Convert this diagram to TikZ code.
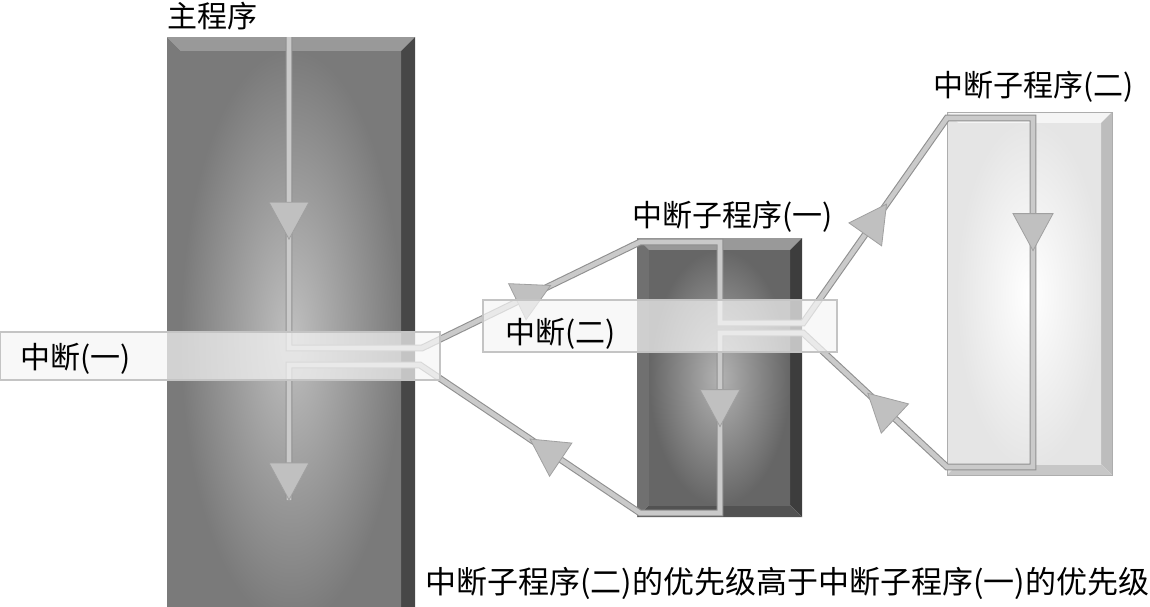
\documentclass[tikz,border=0pt]{standalone}
\usepackage{fontspec}
\newfontfamily\cjk{Noto Sans CJK SC}
\usetikzlibrary{calc,decorations.markings}
\definecolor{linefill}{HTML}{CACACA}
\definecolor{lineedge}{HTML}{909090}
\definecolor{arrfill}{HTML}{C0C0C0}
\definecolor{arredge}{HTML}{A0A0A0}
\definecolor{bandedge}{HTML}{C4C4C4}
\newcommand\bevelfaces[8]{%
 \fill[#3] (#1.north west) -- (#1.north east) -- ($(#1.north east)+(-#2,#2)$) -- ($(#1.north west)+(#2,#2)$) -- cycle;
 \fill[#4] (#1.north west) -- ($(#1.north west)+(#2,#2)$) -- ($(#1.south west)+(#2,-#2)$) -- (#1.south west) -- cycle;
 \fill[#5] (#1.north east) -- (#1.south east) -- ($(#1.south east)+(-#2,-#2)$) -- ($(#1.north east)+(-#2,#2)$) -- cycle;
 \fill[#6] (#1.south west) -- (#1.south east) -- ($(#1.south east)+(-#2,-#2)$) -- ($(#1.south west)+(#2,-#2)$) -- cycle;
 \shade[inner color=#7, outer color=#8] ($(#1.north west)+(#2,#2)$) rectangle ($(#1.south east)+(-#2,-#2)$);
}
\tikzset{
 boxnode/.style={rectangle, inner sep=0pt, outer sep=0pt, anchor=north west},
 flow/.style={draw=lineedge, double=linefill, double distance=4.6pt, line width=1.1pt},
 arrowat/.style={decorate, decoration={markings, mark=at position #1 with {\filldraw[fill=arrfill, draw=arredge, line width=0.8pt, line join=miter] (0pt,0pt) -- (-37pt,20pt) -- (-37pt,-20pt) -- cycle;}}},
 band/.style={rectangle, inner sep=0pt, outer sep=0pt, anchor=north west, fill=black!4, fill opacity=0.72, draw=bandedge, line width=1.4pt},
 label/.style={inner sep=0pt, anchor=base west, font=\cjk\fontsize{30}{32}\selectfont},
 note/.style={inner sep=0pt, anchor=base west, font=\cjk\fontsize{31}{33}\selectfont}
}
\begin{document}
\begin{tikzpicture}[x=1pt,y=-1pt]
\useasboundingbox (0,0) rectangle (1150,606);
% boxes
\node[boxnode, minimum width=248pt, minimum height=600pt] (main) at (167,37) {};
\bevelfaces{main}{14}{black!40}{black!52}{black!72}{black!62}{black!25}{black!52}
\node[boxnode, minimum width=165pt, minimum height=279pt] (isr1) at (637,238) {};
\bevelfaces{isr1}{12}{black!40}{black!56}{black!76}{black!68}{black!30}{black!60}
\node[boxnode, minimum width=165pt, minimum height=363pt] (isr2) at (947,112) {};
\bevelfaces{isr2}{11}{black!4}{black!10}{black!26}{black!22}{white}{black!10}
\draw[black!32, line width=1pt] (isr2.north west) rectangle (isr2.south east);
% path points
\coordinate (a0) at (289,37);
\coordinate (a1) at (289,348);
\coordinate (a2) at (422,348);
\coordinate (b0) at (640,242);
\coordinate (b1) at (720,242);
\coordinate (b2) at (720,323);
\coordinate (b3) at (803,323);
\coordinate (c0) at (947,118);
\coordinate (c1) at (1033,118);
\coordinate (c2) at (1033,467);
\coordinate (c3) at (947,467);
\coordinate (b4) at (803,333);
\coordinate (b5) at (720,333);
\coordinate (b6) at (720,513);
\coordinate (b7) at (640,513);
\coordinate (a3) at (420,365);
\coordinate (a4) at (289,365);
\coordinate (a5) at (289,500);
% connectors
\draw[flow] (a0) -- (a1) -- (a2) -- (b0) -- (b1) -- (b2) -- (b3) -- (c0) -- (c1) -- (c2) -- (c3) -- (b4) -- (b5) -- (b6) -- (b7) -- (a3) -- (a4) -- (a5);
% arrowheads
\path[arrowat=0.65] (a0) -- (a1);
\path[arrowat=0.59] (a2) -- (b0);
\path[arrowat=0.52] (b5) -- (b6);
\path[arrowat=0.5] (b7) -- (a3);
\path[arrowat=0.58] (b3) -- (c0);
\path[arrowat=0.38] (c1) -- (c2);
\path[arrowat=0.55] (c3) -- (b4);
\path[arrowat=0.999] (a4) -- (a5);
% bands
\node[band, minimum width=440pt, minimum height=48pt] (band1) at (0,332) {};
\node[band, minimum width=354pt, minimum height=52pt] (band2) at (483,300) {};
% labels
\node[label] (tmain) at (167,27) {主程序};
\node[label] (tint1) at (20,368) {中断(一)};
\node[label] (tint2) at (505,343) {中断(二)};
\node[label] (tisr1) at (632,226) {中断子程序(一)};
\node[label] (tisr2) at (933,96) {中断子程序(二)};
\node[note] (tnote) at (425,593) {中断子程序(二)的优先级高于中断子程序(一)的优先级};
\end{tikzpicture}
\end{document}
